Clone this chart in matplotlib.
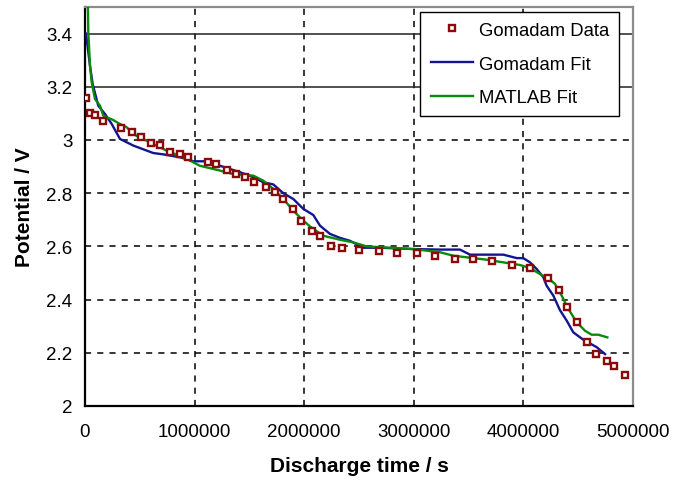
import numpy as np
import matplotlib
matplotlib.use("Agg")
import matplotlib.pyplot as plt
from matplotlib.ticker import FuncFormatter

plt.rcParams['font.family'] = ['Liberation Sans', 'DejaVu Sans']

# Gomadam data points (discharge time in s, potential in V)
data_t = [10000, 45600, 94000, 164000, 331000, 426000, 508000, 602000, 687000, 773000,
          867000, 937000, 1125000, 1198000, 1293000, 1375000, 1460000, 1542000, 1649000, 1731000,
          1804000, 1896000, 1969000, 2074000, 2147000, 2242000, 2347000, 2503000, 2682000, 2847000,
          3025000, 3192000, 3373000, 3537000, 3716000, 3893000, 4060000, 4224000, 4322000, 4395000,
          4486000, 4580000, 4665000, 4760000, 4829000, 4927000]
data_v = [3.157, 3.103, 3.093, 3.072, 3.044, 3.029, 3.011, 2.990, 2.980, 2.956,
          2.946, 2.937, 2.917, 2.909, 2.887, 2.873, 2.862, 2.843, 2.824, 2.806,
          2.780, 2.741, 2.697, 2.659, 2.638, 2.603, 2.593, 2.585, 2.584, 2.574,
          2.574, 2.564, 2.554, 2.554, 2.544, 2.530, 2.520, 2.481, 2.437, 2.373,
          2.316, 2.242, 2.197, 2.168, 2.149, 2.115]

# Gomadam fit curve
gfit_t = [9100, 45600, 70000, 121000, 182000, 244000, 319000, 441000, 623000, 714000,
          867000, 988000, 1110000, 1232000, 1414000, 1536000, 1627000, 1718000, 1810000, 1901000,
          1992000, 2083000, 2144000, 2235000, 2327000, 2418000, 2539000, 2692000, 2995000, 3239000,
          3421000, 3513000, 3817000, 3939000, 3999000, 4060000, 4121000, 4182000, 4212000, 4273000,
          4334000, 4395000, 4455000, 4547000, 4669000, 4745000]
gfit_v = [3.400, 3.279, 3.210, 3.129, 3.098, 3.060, 3.004, 2.979, 2.951, 2.946,
          2.935, 2.920, 2.920, 2.903, 2.879, 2.860, 2.841, 2.833, 2.800, 2.778,
          2.741, 2.718, 2.678, 2.647, 2.632, 2.621, 2.595, 2.595, 2.590, 2.588,
          2.588, 2.569, 2.569, 2.556, 2.556, 2.540, 2.515, 2.484, 2.452, 2.415,
          2.360, 2.321, 2.277, 2.249, 2.221, 2.195]

# MATLAB fit curve
mfit_t = [24600, 30000, 45600, 61000, 91000, 137000, 167000, 258000, 319000, 380000,
          441000, 593000, 745000, 928000, 1049000, 1202000, 1353000, 1536000, 1627000, 1718000,
          1810000, 1901000, 1992000, 2053000, 2174000, 2327000, 2448000, 2570000, 2783000, 2995000,
          3239000, 3360000, 3665000, 3969000, 4060000, 4151000, 4227000, 4288000, 4349000, 4410000,
          4486000, 4562000, 4623000, 4684000, 4766000]
mfit_v = [3.55, 3.405, 3.279, 3.217, 3.154, 3.129, 3.091, 3.075, 3.060, 3.048,
          3.022, 2.991, 2.960, 2.929, 2.903, 2.888, 2.872, 2.866, 2.847, 2.816,
          2.778, 2.734, 2.697, 2.675, 2.640, 2.625, 2.615, 2.600, 2.595, 2.590,
          2.578, 2.565, 2.550, 2.530, 2.519, 2.496, 2.480, 2.459, 2.415, 2.365,
          2.315, 2.283, 2.268, 2.268, 2.258]

fig = plt.figure(figsize=(6.81, 4.81), dpi=100)
ax = fig.add_axes([85/681, 74/481, 548/681, 399/481])

ax.plot(gfit_t, gfit_v, color='#141490', lw=1.7, label='Gomadam Fit', zorder=3)
ax.plot(mfit_t, mfit_v, color='#0a8a0a', lw=1.7, label='MATLAB Fit', zorder=3)
ax.plot(data_t, data_v, ls='', marker='s', ms=4.6, mfc='white', mec='#8b0a0a', mew=1.7,
        label='Gomadam Data', zorder=4)

ax.set_xlim(0, 5000000)
ax.set_ylim(2, 3.5)
ax.set_xticks(np.arange(0, 5000001, 1000000))
ax.set_yticks(np.arange(2, 3.41, 0.2))
ax.xaxis.set_major_formatter(FuncFormatter(lambda v, p: '%d' % v))
ax.yaxis.set_major_formatter(FuncFormatter(lambda v, p: '%g' % round(v, 1)))
ax.tick_params(length=0, labelsize=13.5)
ax.tick_params(axis='y', pad=9)
ax.tick_params(axis='x', pad=12)

ax.grid(True, color='black', ls=(0, (4, 4)), lw=1.1)
for val, gl in zip(ax.get_yticks(), ax.yaxis.get_gridlines()):
    if val > 3.1:
        gl.set_linestyle('-')
        gl.set_color('#222222')

for s in ['left', 'bottom']:
    ax.spines[s].set_color('black')
    ax.spines[s].set_linewidth(1.6)
for s in ['top', 'right']:
    ax.spines[s].set_color('#8c8c8c')
    ax.spines[s].set_linewidth(1.6)

ax.set_xlabel('Discharge time / s', fontsize=15, fontweight='bold', labelpad=12)
ax.set_ylabel('Potential / V', fontsize=15, fontweight='bold', labelpad=9)

h, l = ax.get_legend_handles_labels()
order = [2, 0, 1]
leg = ax.legend([h[i] for i in order], [l[i] for i in order], loc='upper right',
                bbox_to_anchor=(0.9745, 0.988), borderaxespad=0, fancybox=False,
                edgecolor='black', framealpha=1, fontsize=13.3, handlelength=2.3,
                labelspacing=0.9, borderpad=0.55, handletextpad=0.3)
leg.get_frame().set_linewidth(1.0)
leg.set_zorder(5)

fig.savefig('out.png', dpi=100)
